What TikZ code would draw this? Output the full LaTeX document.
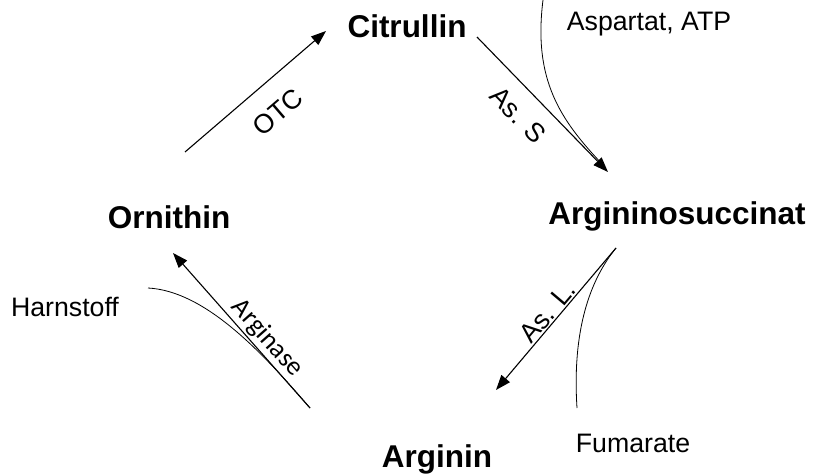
\documentclass[tikz,border=0pt]{standalone}
\usepackage{fontspec}
\setmainfont{Liberation Sans}
\newfontfamily\carlito{Carlito}
\usetikzlibrary{arrows.meta}
\begin{document}
\begin{tikzpicture}[x=1pt,y=1pt,
  metab/.style={font=\fontsize{31.5}{36}\selectfont\bfseries, inner sep=0pt, anchor=base},
  side/.style={font=\fontsize{26.7}{30}\selectfont, inner sep=0pt, anchor=base},
  enz/.style={font=\fontsize{26.7}{30}\selectfont, sloped, inner sep=0pt},
  reac/.style={line width=1.1pt, -{Triangle[length=15pt,width=11pt]}},
  flow/.style={line width=0.8pt}]
\useasboundingbox (0,0) rectangle (817,-476);
% metabolites
\node[metab] (cit) at (407,-38) {Citrullin};
\node[metab] (asu) at (677,-224) {Argininosuccinat};
\node[metab] (arg) at (437,-467) {Arginin};
\node[metab] (orn) at (169,-229) {Ornithin};
% side substances
\node[side] (asp) at (649,-31) {Aspartat, ATP};
\node[side] (fum) at (633,-452) {Fumarate};
\node[side] (har) at (65,-316) {Harnstoff};
% arrow end points
\coordinate (otcA) at (185,-152);
\coordinate (otcB) at (326,-31);
\coordinate (assA) at (477,-37);
\coordinate (assB) at (608,-172);
\coordinate (aslA) at (616,-248);
\coordinate (aslB) at (496,-390);
\coordinate (arsA) at (310,-408);
\coordinate (arsB) at (173,-253);
\coordinate (aspS) at (543,0);
\coordinate (aspE) at (604,-166);
\coordinate (fumE) at (577,-408);
\coordinate (harS) at (148,-288);
% side curves
\draw[flow] (aspS) .. controls (533,-80) and (560,-120) .. (aspE);
\draw[flow] (aslA) .. controls (590,-280) and (572,-330) .. (fumE);
\draw[flow] (harS) .. controls (205,-291) and (262,-352) .. (arsA);
% reactions
\draw[reac] (otcA) -- node[enz, pos=0.52, below=20pt] (otc) {OTC} (otcB);
\draw[reac] (assA) -- node[enz, pos=0.45, below=15pt] (ass) {As. S} (assB);
\draw[reac] (aslA) -- node[enz, pos=0.5, above=1pt] (asl) {As. L.} (aslB);
\draw[reac] (arsA) -- node[enz, pos=0.39, above=2pt, font=\carlito\fontsize{26.7}{30}\selectfont] (ars) {Arginase} (arsB);
\end{tikzpicture}
\end{document}
